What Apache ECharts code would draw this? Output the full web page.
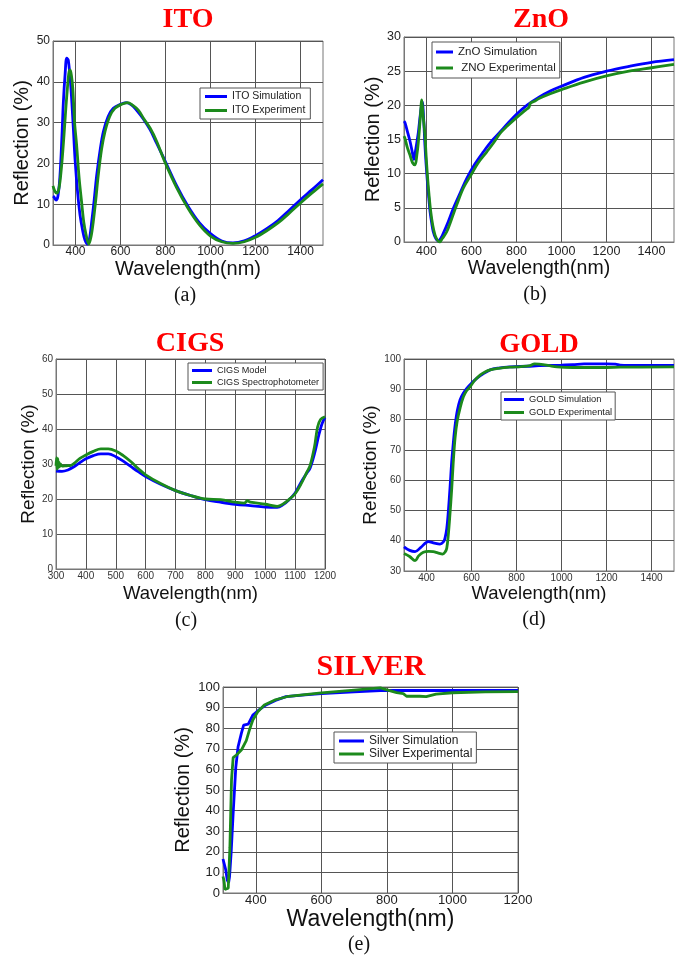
<!DOCTYPE html>
<html>
<head>
<meta charset="utf-8">
<script src="https://cdn.jsdelivr.net/npm/echarts@6/dist/echarts.min.js"></script>
<style>
  html, body { margin: 0; padding: 0; background: #fff; }
  #chart { width: 684px; height: 957px; }
</style>
</head>
<body>
<div id="chart"></div>
<script>
// reflection spectra, [wavelength nm, reflection %]
const itoSim = [[300,12],[304,11.8],[313,11],[322,12],[331,17],[340,27],[346,35],[354,42],[361,45.8],[368,45.3],[379,39],[390,29],[398,21],[410,12.5],[420,7.4],[432,3.5],[442,1.2],[454,0.2],[463,1.8],[472,5.7],[483,11],[494,17],[510,23.5],[524,27.8],[545,31.5],[568,33.5],[600,34.5],[625,34.9],[650,34.3],[672,33],[700,31],[732,28.2],[760,25],[800,20.4],[850,14.5],[900,9.5],[950,5.5],[1000,2.8],[1050,1],[1100,0.5],[1150,1],[1200,2.3],[1250,4],[1300,6],[1350,8.5],[1400,11.1],[1450,13.5],[1500,16]];
const itoExp = [[300,14.5],[308,13.2],[316,12.7],[324,13.3],[331,15.5],[340,20.5],[349,27],[357,33.5],[364,38.4],[370,42],[376,42.9],[382,41.5],[388,38.4],[396,30],[405,24.5],[416,16.5],[427,10.6],[437,5.5],[447,2.5],[459,0.2],[469,2],[479,5.7],[490,11],[501,17],[516,23.5],[531,27.8],[552,31.5],[575,33.5],[605,34.5],[631,34.9],[655,34.2],[680,33],[705,30.8],[732,28.6],[760,25.5],[800,20],[850,14],[900,9],[950,5],[1000,2.2],[1050,0.8],[1100,0.4],[1150,0.8],[1200,1.9],[1250,3.5],[1300,5.4],[1350,7.8],[1400,10.3],[1450,12.7],[1500,15]];

const znoSim = [[300,17.7],[304,17.5],[315,16.2],[327,14.7],[336,13.3],[344,12.1],[352,13.5],[364,16.1],[372,18.5],[381,20.5],[387,18.2],[393,14.2],[398,11.5],[404,8.8],[410,6.5],[416,4.4],[423,2.8],[430,1.5],[440,0.6],[452,0.15],[463,0.5],[475,1.3],[497,3],[519,4.9],[550,7.2],[579,9.3],[615,11.4],[653,13.2],[690,14.8],[727,16.1],[760,17.3],[800,18.7],[850,20.1],[900,21.2],[950,22.1],[1000,22.8],[1100,24.1],[1200,25],[1300,25.7],[1400,26.3],[1500,26.7]];
const znoExp = [[300,15.5],[304,15.2],[315,13.8],[327,12.7],[338,11.6],[349,11.3],[357,12.7],[364,14.7],[372,18],[379,20.8],[385,18.5],[393,15.7],[398,12.8],[404,9.8],[411,7],[419,4.4],[428,2.4],[438,1],[448,0.3],[459,0],[470,0.5],[490,1.5],[512,3.4],[534,5.4],[564,7.9],[594,9.6],[630,11.6],[668,13.2],[700,14.6],[727,15.9],[760,17],[800,18.2],[840,19.3],[855,19.7],[862,20.3],[880,20.6],[900,21],[950,21.7],[1000,22.3],[1100,23.4],[1200,24.3],[1300,25],[1400,25.5],[1500,26]];

const cigsSim = [[300,28],[320,27.9],[340,28.3],[360,29.2],[380,30.4],[400,31.5],[425,32.4],[450,32.9],[475,32.9],[500,32.1],[525,30.8],[550,29.3],[575,27.8],[600,26.4],[650,24.2],[700,22.4],[750,21],[800,19.8],[850,19.1],[900,18.5],[950,18.1],[1000,17.7],[1040,17.6],[1060,18.4],[1080,19.8],[1100,21.7],[1120,24.8],[1140,27.5],[1150,28.8],[1165,33],[1180,38.5],[1190,41.5],[1200,43.3]];
const cigsExp = [[300,29.5],[302,31.8],[304,28.5],[306,31.5],[308,29],[310,30.5],[312,29.2],[315,30],[320,29.4],[335,29.5],[350,29.6],[365,30.5],[380,31.6],[400,32.6],[425,33.6],[450,34.3],[475,34.3],[500,33.7],[525,32.4],[550,30.7],[575,28.7],[600,26.9],[650,24.4],[700,22.4],[750,21],[800,20],[850,19.8],[900,19.1],[930,18.8],[940,19.5],[950,19.1],[1000,18.5],[1040,17.9],[1060,18.6],[1080,19.9],[1100,21.5],[1120,24.3],[1140,27.8],[1150,29.5],[1165,35],[1175,40.5],[1185,42.7],[1200,43.5]];

const goldSim = [[300,38],[325,36.8],[349,36.4],[375,37.8],[408,39.7],[435,39.2],[460,38.9],[475,39.6],[482,40.8],[490,44],[497,49.6],[505,58],[512,66],[520,73],[527,78],[537,83],[549,86.5],[563,88.6],[579,90.3],[600,92],[623,93.6],[650,95],[683,96.4],[720,97],[771,97.4],[850,97.6],[900,97.8],[1000,98],[1050,98.1],[1100,98.4],[1200,98.4],[1240,98.3],[1260,98],[1300,97.9],[1400,97.9],[1500,97.9]];
const goldExp = [[300,35.8],[325,34.8],[349,33.4],[365,35],[386,36.2],[410,36.5],[430,36.4],[450,36],[472,35.6],[483,36.3],[490,37.5],[497,42],[504,48.5],[512,57],[519,66],[527,74],[536,79.3],[550,84],[564,87.5],[578,89.5],[593,90.8],[615,93],[638,94.7],[660,95.7],[683,96.4],[720,96.9],[770,97.3],[820,97.5],[860,97.8],[880,98.4],[900,98.3],[940,97.9],[980,97.4],[1050,97.2],[1100,97.2],[1200,97.2],[1260,97.3],[1500,97.4]];

const silverSim = [[300,16.5],[303,16],[308,11.5],[313,6.3],[317,5],[320,8],[325,20],[331,38.7],[339,61],[346,71],[356,77.5],[363,81.5],[377,82],[391,86.4],[411,89],[431,91.3],[460,93.5],[492,95.3],[550,96.2],[600,96.8],[700,97.7],[780,98.3],[800,98.4],[900,98.3],[1000,98.3],[1100,98.3],[1200,98.3]];
const silverExp = [[300,8],[303,6],[306,1.8],[316,2.3],[321,22],[326,55],[331,65.7],[341,67],[356,69.4],[371,74],[381,79.3],[391,84],[406,88],[426,91.3],[460,93.8],[500,95.5],[600,97.1],[700,98.5],[760,99.3],[780,99.6],[800,98.6],[830,97.3],[850,96.8],[860,95.5],[900,95.5],[920,95.3],[950,96.5],[1000,97.2],[1100,97.6],[1200,97.8]];

// tick labels / grid positions
const xTicks1500 = [400, 600, 800, 1000, 1200, 1400];
const xTicksSilver = [400, 600, 800, 1000, 1200];

const BLUE = '#0000ff', GREEN = '#1c8a1c';
const SANS = 'Liberation Sans', SERIF = 'Liberation Serif';

const panels = [
  { title: 'ITO', tag: '(a)', grid: [53, 41, 270, 204], x: [300, 1500], y: [0, 50, 10], xTicks: xTicks1500,
    tick: 12, tickColor: '#222', xName: 20, yName: 20, yGap: 17, xGap: 14, xMargin: 1,
    names: ['ITO Simulation', 'ITO Experiment'], data: [itoSim, itoExp], smooth: 0.35,
    legend: { left: 200, top: 88, size: 10.5, itemWidth: 22, gap: 3, pad: [3, 5, 3, 5] },
    titlePos: [188, 20, 28], tagPos: [185, 296] },
  { title: 'ZnO', tag: '(b)', grid: [404, 37, 270, 205], x: [300, 1500], y: [0, 30, 5], xTicks: xTicks1500,
    tick: 12.5, tickColor: '#222', xName: 19.5, yName: 20, yGap: 17, xGap: 17, xMargin: 3,
    names: ['ZnO Simulation', ' ZNO Experimental'], data: [znoSim, znoExp], smooth: 0.35,
    legend: { left: 432, top: 42, size: 11.5, itemWidth: 17, gap: 4, pad: [4, 4, 4, 4] },
    titlePos: [541, 20, 28], tagPos: [535, 295] },
  { title: 'CIGS', tag: '(c)', grid: [56, 359, 269, 210], x: [300, 1200, 100], y: [0, 60, 10], xTicks: null,
    tick: 10, tickColor: '#333', xName: 18.5, yName: 19, yGap: 14, xGap: 15, xMargin: 2,
    names: ['CIGS Model', 'CIGS Spectrophotometer'], data: [cigsSim, cigsExp], smooth: 0.35,
    legend: { left: 188, top: 363, size: 9.1, itemWidth: 20, gap: 3, pad: [3, 4, 3, 4] },
    titlePos: [190, 344, 28], tagPos: [186, 621] },
  { title: 'GOLD', tag: '(d)', grid: [404, 359, 270, 212], x: [300, 1500], y: [30, 100, 10], xTicks: xTicks1500,
    tick: 10, tickColor: '#333', xName: 18.5, yName: 19, yGap: 20, xGap: 13, xMargin: 2,
    names: ['GOLD Simulation', 'GOLD Experimental'], data: [goldSim, goldExp], smooth: 0.35,
    legend: { left: 501, top: 392, size: 9.3, itemWidth: 20, gap: 4, pad: [3, 3, 3, 3] },
    titlePos: [539, 345, 27], tagPos: [534, 620] },
  { title: 'SILVER', tag: '(e)', grid: [223, 687, 295, 206], x: [300, 1200], y: [0, 100, 10], xTicks: xTicksSilver,
    tick: 13, tickColor: '#222', xName: 23, yName: 20, yGap: 30, xGap: 12, xMargin: 1,
    names: ['Silver Simulation', 'Silver Experimental'], data: [silverSim, silverExp], smooth: false,
    legend: { left: 334, top: 732, size: 12, itemWidth: 25, gap: 1, pad: [3, 4, 3, 5] },
    titlePos: [371, 667, 30], tagPos: [359, 945] }
];

const chart = echarts.init(document.getElementById('chart'));

const grids = [], xAxes = [], yAxes = [], series = [], legends = [], texts = [];
const plain = v => String(v);

panels.forEach((p, i) => {
  grids.push({ left: p.grid[0], top: p.grid[1], width: p.grid[2], height: p.grid[3],
    show: true, borderColor: '#777', borderWidth: 1, backgroundColor: '#fff' });

  const x = {
    type: 'value', gridIndex: i, min: p.x[0], max: p.x[1],
    name: 'Wavelength(nm)', nameLocation: 'middle', nameGap: p.xGap,
    nameTextStyle: { fontFamily: SANS, fontSize: p.xName, color: '#111' },
    axisLine: { show: true, lineStyle: { color: '#777' } },
    axisTick: { show: false },
    axisLabel: { fontFamily: SANS, fontSize: p.tick, color: p.tickColor, margin: p.xMargin, formatter: plain },
    splitLine: { show: true, lineStyle: { color: '#555', width: 1 } }
  };
  if (p.xTicks) {
    x.axisTick.customValues = p.xTicks;
    x.axisLabel.customValues = p.xTicks;
  } else {
    x.interval = p.x[2];
  }
  xAxes.push(x);

  yAxes.push({
    type: 'value', gridIndex: i, min: p.y[0], max: p.y[1], interval: p.y[2],
    name: 'Reflection (%)', nameLocation: 'middle', nameGap: p.yGap,
    nameTextStyle: { fontFamily: SANS, fontSize: p.yName, color: '#111' },
    axisLine: { show: true, lineStyle: { color: '#777' } },
    axisTick: { show: false },
    axisLabel: { fontFamily: SANS, fontSize: p.tick, color: p.tickColor, margin: 3, formatter: plain },
    splitLine: { show: true, lineStyle: { color: '#555', width: 1 } }
  });

  [BLUE, GREEN].forEach((c, k) => {
    series.push({
      type: 'line', name: p.names[k], xAxisIndex: i, yAxisIndex: i,
      data: p.data[k], showSymbol: false, smooth: p.smooth,
      lineStyle: { color: c, width: 2.8 }, itemStyle: { color: c },
      z: 2 + k
    });
  });

  const L = p.legend;
  legends.push({
    left: L.left, top: L.top, orient: 'vertical', data: p.names,
    backgroundColor: '#fff', borderColor: '#555', borderWidth: 1,
    padding: L.pad, itemGap: L.gap, itemWidth: L.itemWidth, itemHeight: 3, icon: 'rect',
    textStyle: { fontFamily: SANS, fontSize: L.size, color: '#222' }
  });

  texts.push({ type: 'text', x: p.titlePos[0], y: p.titlePos[1],
    style: { text: p.title, fill: '#ff0000', font: 'bold ' + p.titlePos[2] + 'px "' + SERIF + '"',
      textAlign: 'center', textVerticalAlign: 'middle' } });
  texts.push({ type: 'text', x: p.tagPos[0], y: p.tagPos[1],
    style: { text: p.tag, fill: '#111', font: '20px "' + SERIF + '"',
      textAlign: 'center', textVerticalAlign: 'middle' } });
});

chart.setOption({
  animation: false,
  backgroundColor: '#fff',
  grid: grids,
  xAxis: xAxes,
  yAxis: yAxes,
  legend: legends,
  series: series,
  graphic: texts
});
</script>
</body>
</html>
